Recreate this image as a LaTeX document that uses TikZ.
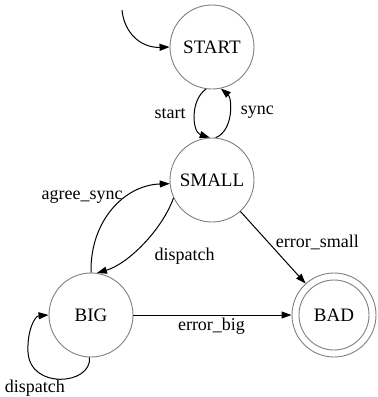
\documentclass[tikz,border=0pt]{standalone}
\usepackage{fontspec}
\setmainfont{Liberation Serif}
\usetikzlibrary{arrows.meta}

\begin{document}
\begin{tikzpicture}[x=1pt, y=-1pt,
  state/.style={circle, draw=black!50, line width=0.9pt, minimum size=84pt,
    inner sep=0pt, font=\fontsize{19}{21}\selectfont},
  edge/.style={draw=black, line width=1pt, -{Triangle[length=10pt, width=7pt]}},
  lbl/.style={inner sep=1pt, font=\fontsize{18}{20}\selectfont}]

  % canvas
  \fill[white] (0,0) rectangle (378,397);
  \useasboundingbox (0,0) rectangle (378,397);

  % states
  \node[state] (START) at (212,47)  {START};
  \node[state] (SMALL) at (212,180) {SMALL};
  \node[state] (BIG)   at (91,315)  {BIG};
  \node[state] (BAD)   at (334,315) {BAD};
  \draw[draw=black!50, line width=0.9pt] (BAD.center) circle[radius=35pt];

  % entry arrow
  \coordinate (init) at (122,10);
  \draw[edge] (init) .. controls (124,32) and (140,48) .. (START.180);

  % transitions
  \draw[edge] (START.262) .. controls (190,100) and (192,132) .. (SMALL.93)
    node[lbl, pos=0.5, xshift=-25pt, yshift=2pt] {start};
  \draw[edge] (SMALL.85) .. controls (234,130) and (232,98) .. (START.282)
    node[lbl, pos=0.5, xshift=28pt, yshift=2pt] {sync};
  \draw[edge] (SMALL.205) .. controls (162,230) and (128,264) .. (BIG.82)
    node[lbl, pos=0.5, xshift=42pt, yshift=-12pt] {dispatch};
  \draw[edge] (BIG.90) .. controls (90,220) and (125,185) .. (SMALL.185)
    node[lbl, pos=0.5, xshift=-31pt, yshift=12pt] {agree\_sync};
  \draw[edge] (SMALL) -- (BAD)
    node[lbl, pos=0.43, xshift=49pt] {error\_small};
  \draw[edge] (BIG) -- (BAD)
    node[lbl, pos=0.5, xshift=-1pt, yshift=-11pt] {error\_big};
  \draw[edge] (BIG.268) .. controls (92,385) and (30,390) .. (28,352)
    node[lbl, pos=0.75, xshift=-4pt, yshift=-15pt] {dispatch}
    .. controls (27,330) and (35,316) .. (BIG.180);
\end{tikzpicture}
\end{document}
